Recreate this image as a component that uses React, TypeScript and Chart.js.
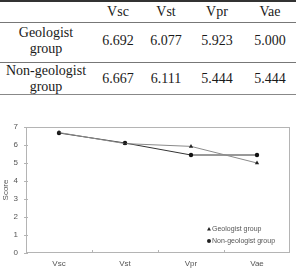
import React, { useEffect, useRef } from "react";
import { Chart, registerables } from "chart.js";

Chart.register(...registerables);

const categories = ["Vsc", "Vst", "Vpr", "Vae"];
const groups = ["Geologist group", "Non-geologist group"];
const groupRowLabels = [["Geologist", "group"], ["Non-geologist", "group"]];
const geologistValues = [6.692, 6.077, 5.923, 5.0];
const nonGeologistValues = [6.667, 6.111, 5.444, 5.444];
const tableValues = [
  ["6.692", "6.077", "5.923", "5.000"],
  ["6.667", "6.111", "5.444", "5.444"],
];
const yTicks = [0, 1, 2, 3, 4, 5, 6, 7];

const colCenters = [118, 166, 217, 270];
const rowCenters = [41, 79];

const serif = "'Liberation Serif', 'Times New Roman', serif";
const sans = "'Liberation Sans', Arial, sans-serif";

const framePlugin = {
  id: "framePlugin",
  afterDraw(chart: any) {
    const { ctx, chartArea } = chart;
    const xs = chart.scales.x;
    const ys = chart.scales.y;
    ctx.save();
    ctx.strokeStyle = "#b4b4b4";
    ctx.lineWidth = 1;
    ctx.strokeRect(
      Math.round(chartArea.left) + 0.5,
      Math.round(chartArea.top) + 0.5,
      Math.round(chartArea.right - chartArea.left) - 1,
      Math.round(chartArea.bottom - chartArea.top) - 1
    );
    ctx.beginPath();
    for (let i = 1; i < categories.length; i++) {
      const x = Math.round((xs.getPixelForTick(i - 1) + xs.getPixelForTick(i)) / 2) + 0.5;
      ctx.moveTo(x, chartArea.bottom);
      ctx.lineTo(x, chartArea.bottom - 3);
    }
    for (const v of yTicks) {
      const y = Math.round(ys.getPixelForValue(v)) + 0.5;
      ctx.moveTo(chartArea.left - 2, y);
      ctx.lineTo(chartArea.left + 2, y);
    }
    ctx.stroke();

    const lx = chartArea.right - 81;
    const ly0 = chartArea.bottom - 24;
    ctx.font = `7px ${sans}`;
    ctx.textBaseline = "middle";
    ctx.textAlign = "left";
    chart.data.datasets.forEach((ds: any, i: number) => {
      const y = ly0 + i * 12;
      ctx.fillStyle = "#222";
      if (ds.pointStyle === "triangle") {
        ctx.beginPath();
        ctx.moveTo(lx, y - 2);
        ctx.lineTo(lx + 2, y + 1.5);
        ctx.lineTo(lx - 2, y + 1.5);
        ctx.closePath();
        ctx.fill();
      } else {
        ctx.beginPath();
        ctx.arc(lx, y, 2, 0, Math.PI * 2);
        ctx.fill();
      }
      ctx.fillStyle = "#555";
      ctx.fillText(ds.label, lx + 3, y);
    });
    ctx.restore();
  },
};

function ChartView() {
  const ref = useRef<HTMLCanvasElement | null>(null);
  useEffect(() => {
    if (!ref.current) return;
    const chart = new Chart(ref.current, {
      type: "line",
      data: {
        labels: categories,
        datasets: [
          {
            label: groups[0],
            data: geologistValues,
            borderColor: "#8a8a8a",
            borderWidth: 1,
            pointStyle: "triangle",
            pointRadius: 2.5,
            pointBackgroundColor: "#222",
            pointBorderColor: "#222",
            pointBorderWidth: 0,
            tension: 0,
          },
          {
            label: groups[1],
            data: nonGeologistValues,
            borderColor: "#333",
            borderWidth: 1,
            pointStyle: "circle",
            pointRadius: 2.2,
            pointBackgroundColor: "#111",
            pointBorderColor: "#111",
            pointBorderWidth: 0,
            tension: 0,
          },
        ],
      },
      options: {
        responsive: false,
        animation: false,
        layout: { padding: { top: 27, right: 6, left: 0, bottom: 0 } },
        plugins: { legend: { display: false }, tooltip: { enabled: false } },
        scales: {
          x: {
            type: "category",
            offset: true,
            grid: { display: false, drawTicks: false },
            border: { display: false },
            ticks: { color: "#555", font: { family: sans, size: 8 }, padding: 6, maxRotation: 0 },
            afterFit(scale: any) {
              scale.height = 17;
            },
          },
          y: {
            min: 0,
            max: 7,
            grid: { display: false, drawTicks: false },
            border: { display: false },
            ticks: { stepSize: 1, color: "#555", font: { family: sans, size: 8 }, padding: 8 },
            title: {
              display: true,
              text: "Score",
              color: "#555",
              font: { family: sans, size: 8 },
              padding: { top: 1, bottom: 0 },
            },
            afterFit(scale: any) {
              scale.width = 26;
            },
          },
        },
      },
      plugins: [framePlugin],
    });
    return () => chart.destroy();
  }, []);
  return <canvas ref={ref} width={296} height={170} style={{ position: "absolute", left: 0, top: 100, width: 296, height: 170 }} />;
}

export default function App() {
  useEffect(() => {
    document.body.style.margin = "0";
    document.body.style.background = "#fff";
  }, []);
  const cell = (text: string, cx: number, cy: number, key: string) => (
    <div
      key={key}
      style={{
        position: "absolute",
        left: cx - 50,
        width: 100,
        top: cy - 8,
        lineHeight: "16px",
        textAlign: "center",
        fontFamily: serif,
        fontSize: 14,
        color: "#1a1a1a",
        whiteSpace: "nowrap",
      }}
    >
      {text}
    </div>
  );
  return (
    <div style={{ position: "relative", width: 296, height: 270, background: "#fff", overflow: "hidden" }}>
      <div style={{ position: "absolute", left: 0, top: 0, width: 296, height: 2, background: "#333" }} />
      <div style={{ position: "absolute", left: 0, top: 22, width: 296, height: 1, background: "#777" }} />
      <div style={{ position: "absolute", left: 0, top: 62, width: 296, height: 1, background: "#777" }} />
      <div style={{ position: "absolute", left: 0, top: 94, width: 296, height: 1, background: "#888" }} />
      {categories.map((c, i) => cell(c, colCenters[i], 12, "h" + i))}
      {groupRowLabels.map((lines, r) =>
        lines.map((t, j) => cell(t, 46, rowCenters[r] - 8 + j * 16, "l" + r + j))
      )}
      {tableValues.map((row, r) => row.map((v, i) => cell(v, colCenters[i], rowCenters[r], "v" + r + i)))}
      <ChartView />
    </div>
  );
}
